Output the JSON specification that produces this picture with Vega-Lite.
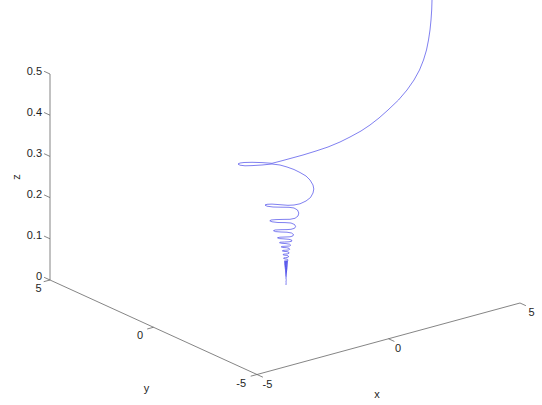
{
  "$schema": "https://vega.github.io/schema/vega-lite/v6.json",
  "width": 542,
  "height": 405,
  "padding": 0,
  "autosize": {"type": "none"},
  "background": "white",
  "config": {"view": {"stroke": null}},
  "datasets": {
    "curve": [
      {"i":1,"h":432,"v":0},{"i":2,"h":431.7,"v":10},{"i":3,"h":431,"v":20},{"i":4,"h":430,"v":30},
      {"i":5,"h":428.5,"v":40},{"i":6,"h":426.5,"v":50},{"i":7,"h":423.5,"v":60},{"i":8,"h":419.5,"v":70},
      {"i":9,"h":414,"v":80},{"i":10,"h":407,"v":90},{"i":11,"h":398.5,"v":100},{"i":12,"h":388,"v":110},
      {"i":13,"h":379,"v":118},{"i":14,"h":370,"v":125},{"i":15,"h":361,"v":131},{"i":16,"h":350,"v":137},
      {"i":17,"h":340,"v":142},{"i":18,"h":328,"v":147},{"i":19,"h":316,"v":151},{"i":20,"h":303,"v":155},
      {"i":21,"h":292,"v":158},{"i":22,"h":281,"v":161},{"i":23,"h":272,"v":163.3},
      {"i":24,"h":262,"v":162.6},{"i":25,"h":252,"v":162.3},{"i":26,"h":244,"v":162.5},
      {"i":27,"h":240,"v":163},{"i":28,"h":238,"v":164},{"i":29,"h":240,"v":165.2},{"i":30,"h":245,"v":165.8},
      {"i":31,"h":252,"v":165.6},{"i":32,"h":262,"v":165},{"i":33,"h":272,"v":164},{"i":34,"h":280,"v":165},
      {"i":35,"h":287,"v":167},{"i":36,"h":294,"v":169.5},{"i":37,"h":300,"v":172.5},{"i":38,"h":306,"v":176},
      {"i":39,"h":310,"v":180},{"i":40,"h":313,"v":185},{"i":41,"h":313.8,"v":189},{"i":42,"h":313,"v":193},
      {"i":43,"h":310.5,"v":197.5},{"i":44,"h":306,"v":201},{"i":45,"h":300,"v":203.8},{"i":46,"h":294,"v":205},
      {"i":47,"h":288,"v":205.3},{"i":48,"h":280,"v":204.7},{"i":49,"h":272,"v":204.1},{"i":50,"h":267,"v":204.3},
      {"i":51,"h":265,"v":205},{"i":52,"h":267,"v":206.2},{"i":53,"h":273,"v":207},{"i":54,"h":281,"v":207.2},
      {"i":55,"h":289,"v":207.3},{"i":56,"h":294,"v":208},{"i":57,"h":297.5,"v":210},{"i":58,"h":298.8,"v":213},
      {"i":59,"h":298,"v":216},{"i":60,"h":295,"v":218.3},{"i":61,"h":290,"v":219.3},{"i":62,"h":283,"v":219.4},
      {"i":63,"h":276,"v":219.6},{"i":64,"h":271,"v":220},{"i":65,"h":269.8,"v":220.8},{"i":66,"h":272,"v":221.8},
      {"i":67,"h":278,"v":222.5},{"i":68,"h":285,"v":222.6},{"i":69,"h":291,"v":223},{"i":70,"h":294.5,"v":224.5},
      {"i":71,"h":295.6,"v":226.5},{"i":72,"h":294.5,"v":228.3},{"i":73,"h":291,"v":229.3},{"i":74,"h":287,"v":229.6},
      {"i":75,"h":281,"v":229.7},{"i":76,"h":275,"v":230},{"i":77,"h":273.5,"v":230.7},{"i":78,"h":275.5,"v":231.6},
      {"i":79,"h":281,"v":232},{"i":80,"h":287,"v":232.2},{"i":81,"h":291.5,"v":233},{"i":82,"h":293.5,"v":234.5},
      {"i":83,"h":292.8,"v":236},{"i":84,"h":290,"v":236.8},{"i":85,"h":285,"v":237},{"i":86,"h":280,"v":237.2},
      {"i":87,"h":277.5,"v":237.8},{"i":88,"h":279.5,"v":238.6},{"i":89,"h":284,"v":238.9},{"i":90,"h":289,"v":239.3},
      {"i":91,"h":291.8,"v":240.2},{"i":92,"h":291.6,"v":241.3},{"i":93,"h":289,"v":241.8},{"i":94,"h":284.5,"v":242},
      {"i":95,"h":280.5,"v":242.2},{"i":96,"h":279.5,"v":242.7},{"i":97,"h":281.5,"v":243.3},{"i":98,"h":286,"v":243.6},
      {"i":99,"h":289.5,"v":244.2},{"i":100,"h":290.7,"v":245.2},{"i":101,"h":289.5,"v":246},{"i":102,"h":286,"v":246.2},
      {"i":103,"h":282.5,"v":246.4},{"i":104,"h":281.2,"v":246.9},{"i":105,"h":283,"v":247.5},{"i":106,"h":286.5,"v":247.7},
      {"i":107,"h":289,"v":248.3},{"i":108,"h":289.8,"v":249.2},{"i":109,"h":288.5,"v":250},{"i":110,"h":285.5,"v":250.2},
      {"i":111,"h":283,"v":250.4},{"i":112,"h":282.3,"v":250.9},{"i":113,"h":284,"v":251.4},{"i":114,"h":287,"v":251.6},
      {"i":115,"h":288.8,"v":252.3},{"i":116,"h":289.1,"v":253.1},{"i":117,"h":287.8,"v":253.8},{"i":118,"h":285.5,"v":254},
      {"i":119,"h":283.4,"v":254.2},{"i":120,"h":283,"v":254.7},{"i":121,"h":284.5,"v":255.2},{"i":122,"h":287,"v":255.4},
      {"i":123,"h":288.4,"v":256.1},{"i":124,"h":288.5,"v":256.9},{"i":125,"h":287.2,"v":257.5},{"i":126,"h":285.5,"v":257.7},
      {"i":127,"h":283.8,"v":257.9},{"i":128,"h":283.6,"v":258.4},{"i":129,"h":285,"v":258.9},{"i":130,"h":287.2,"v":259.2},
      {"i":131,"h":288.1,"v":259.9},{"i":132,"h":287.8,"v":260.6},{"i":133,"h":284.2,"v":261.2},{"i":134,"h":287.9,"v":261.7},
      {"i":135,"h":284.3,"v":262.3},{"i":136,"h":287.8,"v":262.8},{"i":137,"h":284.4,"v":263.4},{"i":138,"h":287.7,"v":263.9},
      {"i":139,"h":284.5,"v":264.5},{"i":140,"h":287.6,"v":265},{"i":141,"h":284.6,"v":265.6},{"i":142,"h":287.5,"v":266.1},
      {"i":143,"h":284.7,"v":266.7},{"i":144,"h":287.4,"v":267.2},{"i":145,"h":284.8,"v":267.8},{"i":146,"h":287.3,"v":268.3},
      {"i":147,"h":284.9,"v":268.9},{"i":148,"h":287.2,"v":269.4},{"i":149,"h":285,"v":270},{"i":150,"h":287.1,"v":270.5},
      {"i":151,"h":285.1,"v":271.1},{"i":152,"h":287,"v":271.6},{"i":153,"h":285.2,"v":272.2},{"i":154,"h":286.9,"v":272.7},
      {"i":155,"h":285.3,"v":273.3},{"i":156,"h":286.8,"v":273.8},{"i":157,"h":285.4,"v":274.4},{"i":158,"h":286.7,"v":274.9},
      {"i":159,"h":285.5,"v":275.5},{"i":160,"h":286.6,"v":276},{"i":161,"h":285.6,"v":276.6},{"i":162,"h":286.5,"v":277.1},
      {"i":163,"h":285.7,"v":277.7},{"i":164,"h":286.4,"v":278.2},{"i":165,"h":285.8,"v":278.8},{"i":166,"h":286.3,"v":279.3},
      {"i":167,"h":285.9,"v":279.9},{"i":168,"h":286.2,"v":280.4},{"i":169,"h":286,"v":281},{"i":170,"h":286.1,"v":282.5},
      {"i":171,"h":286,"v":285}
    ],
    "segments": [
      {"part":"axis","name":"z","h":50,"v":74,"h2":50,"v2":280},
      {"part":"axis","name":"y","h":50,"v":280,"h2":257,"v2":374.5},
      {"part":"axis","name":"x","h":257,"v":374.5,"h2":520,"v2":303},
      {"part":"tick","name":"z=0","h":50,"v":280,"h2":44.1,"v2":277.3},
      {"part":"tick","name":"z=0.1","h":50,"v":238.8,"h2":44.1,"v2":236.1},
      {"part":"tick","name":"z=0.2","h":50,"v":197.6,"h2":44.1,"v2":194.9},
      {"part":"tick","name":"z=0.3","h":50,"v":156.4,"h2":44.1,"v2":153.7},
      {"part":"tick","name":"z=0.4","h":50,"v":115.2,"h2":44.1,"v2":112.5},
      {"part":"tick","name":"z=0.5","h":50,"v":74,"h2":44.1,"v2":71.3},
      {"part":"tick","name":"y=5","h":50,"v":280,"h2":43.7,"v2":281.7},
      {"part":"tick","name":"y=0","h":153.5,"v":327.25,"h2":147.2,"v2":329},
      {"part":"tick","name":"y=-5","h":257,"v":374.5,"h2":250.7,"v2":376.2},
      {"part":"tick","name":"x=-5","h":257,"v":374.5,"h2":262.9,"v2":377.2},
      {"part":"tick","name":"x=0","h":388.5,"v":338.75,"h2":394.4,"v2":341.45},
      {"part":"tick","name":"x=5","h":520,"v":303,"h2":525.9,"v2":305.7}
    ],
    "labels": [
      {"axis":"z","text":"0","h":42,"v":277},
      {"axis":"z","text":"0.1","h":42,"v":236},
      {"axis":"z","text":"0.2","h":42,"v":195},
      {"axis":"z","text":"0.3","h":42,"v":154},
      {"axis":"z","text":"0.4","h":42,"v":113},
      {"axis":"z","text":"0.5","h":42,"v":72},
      {"axis":"y","text":"5","h":41.5,"v":288.5},
      {"axis":"y","text":"0","h":143,"v":336},
      {"axis":"y","text":"-5","h":246,"v":383.5},
      {"axis":"x","text":"-5","h":262.5,"v":384.5},
      {"axis":"x","text":"0","h":395,"v":348.5},
      {"axis":"x","text":"5","h":528.5,"v":312.5}
    ],
    "titles": [
      {"text":"x","h":377,"v":394.5},
      {"text":"y","h":146.5,"v":388.5}
    ],
    "ztitle": [
      {"text":"z","h":16.5,"v":177}
    ]
  },
  "encoding": {
    "x": {"field": "h", "type": "quantitative", "axis": null, "scale": {"domain": [0, 542], "nice": false, "zero": false}},
    "y": {"field": "v", "type": "quantitative", "axis": null, "scale": {"domain": [0, 405], "nice": false, "zero": false, "reverse": true}}
  },
  "layer": [
    {
      "data": {"name": "segments"},
      "mark": {"type": "rule", "color": "#666666", "strokeWidth": 0.8},
      "encoding": {
        "x2": {"field": "h2"},
        "y2": {"field": "v2"}
      }
    },
    {
      "data": {"name": "curve"},
      "mark": {"type": "line", "color": "#2a2ae6", "strokeWidth": 0.6, "interpolate": "linear"},
      "encoding": {
        "order": {"field": "i", "type": "quantitative"}
      }
    },
    {
      "data": {"name": "labels"},
      "transform": [{"filter": "datum.axis !== 'x'"}],
      "mark": {"type": "text", "align": "right", "baseline": "middle", "font": "Liberation Sans", "fontSize": 11, "color": "#1e1e1e"},
      "encoding": {"text": {"field": "text"}}
    },
    {
      "data": {"name": "labels"},
      "transform": [{"filter": "datum.axis === 'x'"}],
      "mark": {"type": "text", "align": "left", "baseline": "middle", "font": "Liberation Sans", "fontSize": 11, "color": "#1e1e1e"},
      "encoding": {"text": {"field": "text"}}
    },
    {
      "data": {"name": "titles"},
      "mark": {"type": "text", "align": "center", "baseline": "middle", "font": "Liberation Sans", "fontSize": 11, "color": "#1e1e1e"},
      "encoding": {"text": {"field": "text"}}
    },
    {
      "data": {"name": "ztitle"},
      "mark": {"type": "text", "align": "center", "baseline": "middle", "angle": 270, "font": "Liberation Sans", "fontSize": 11, "color": "#1e1e1e"},
      "encoding": {"text": {"field": "text"}}
    }
  ]
}
